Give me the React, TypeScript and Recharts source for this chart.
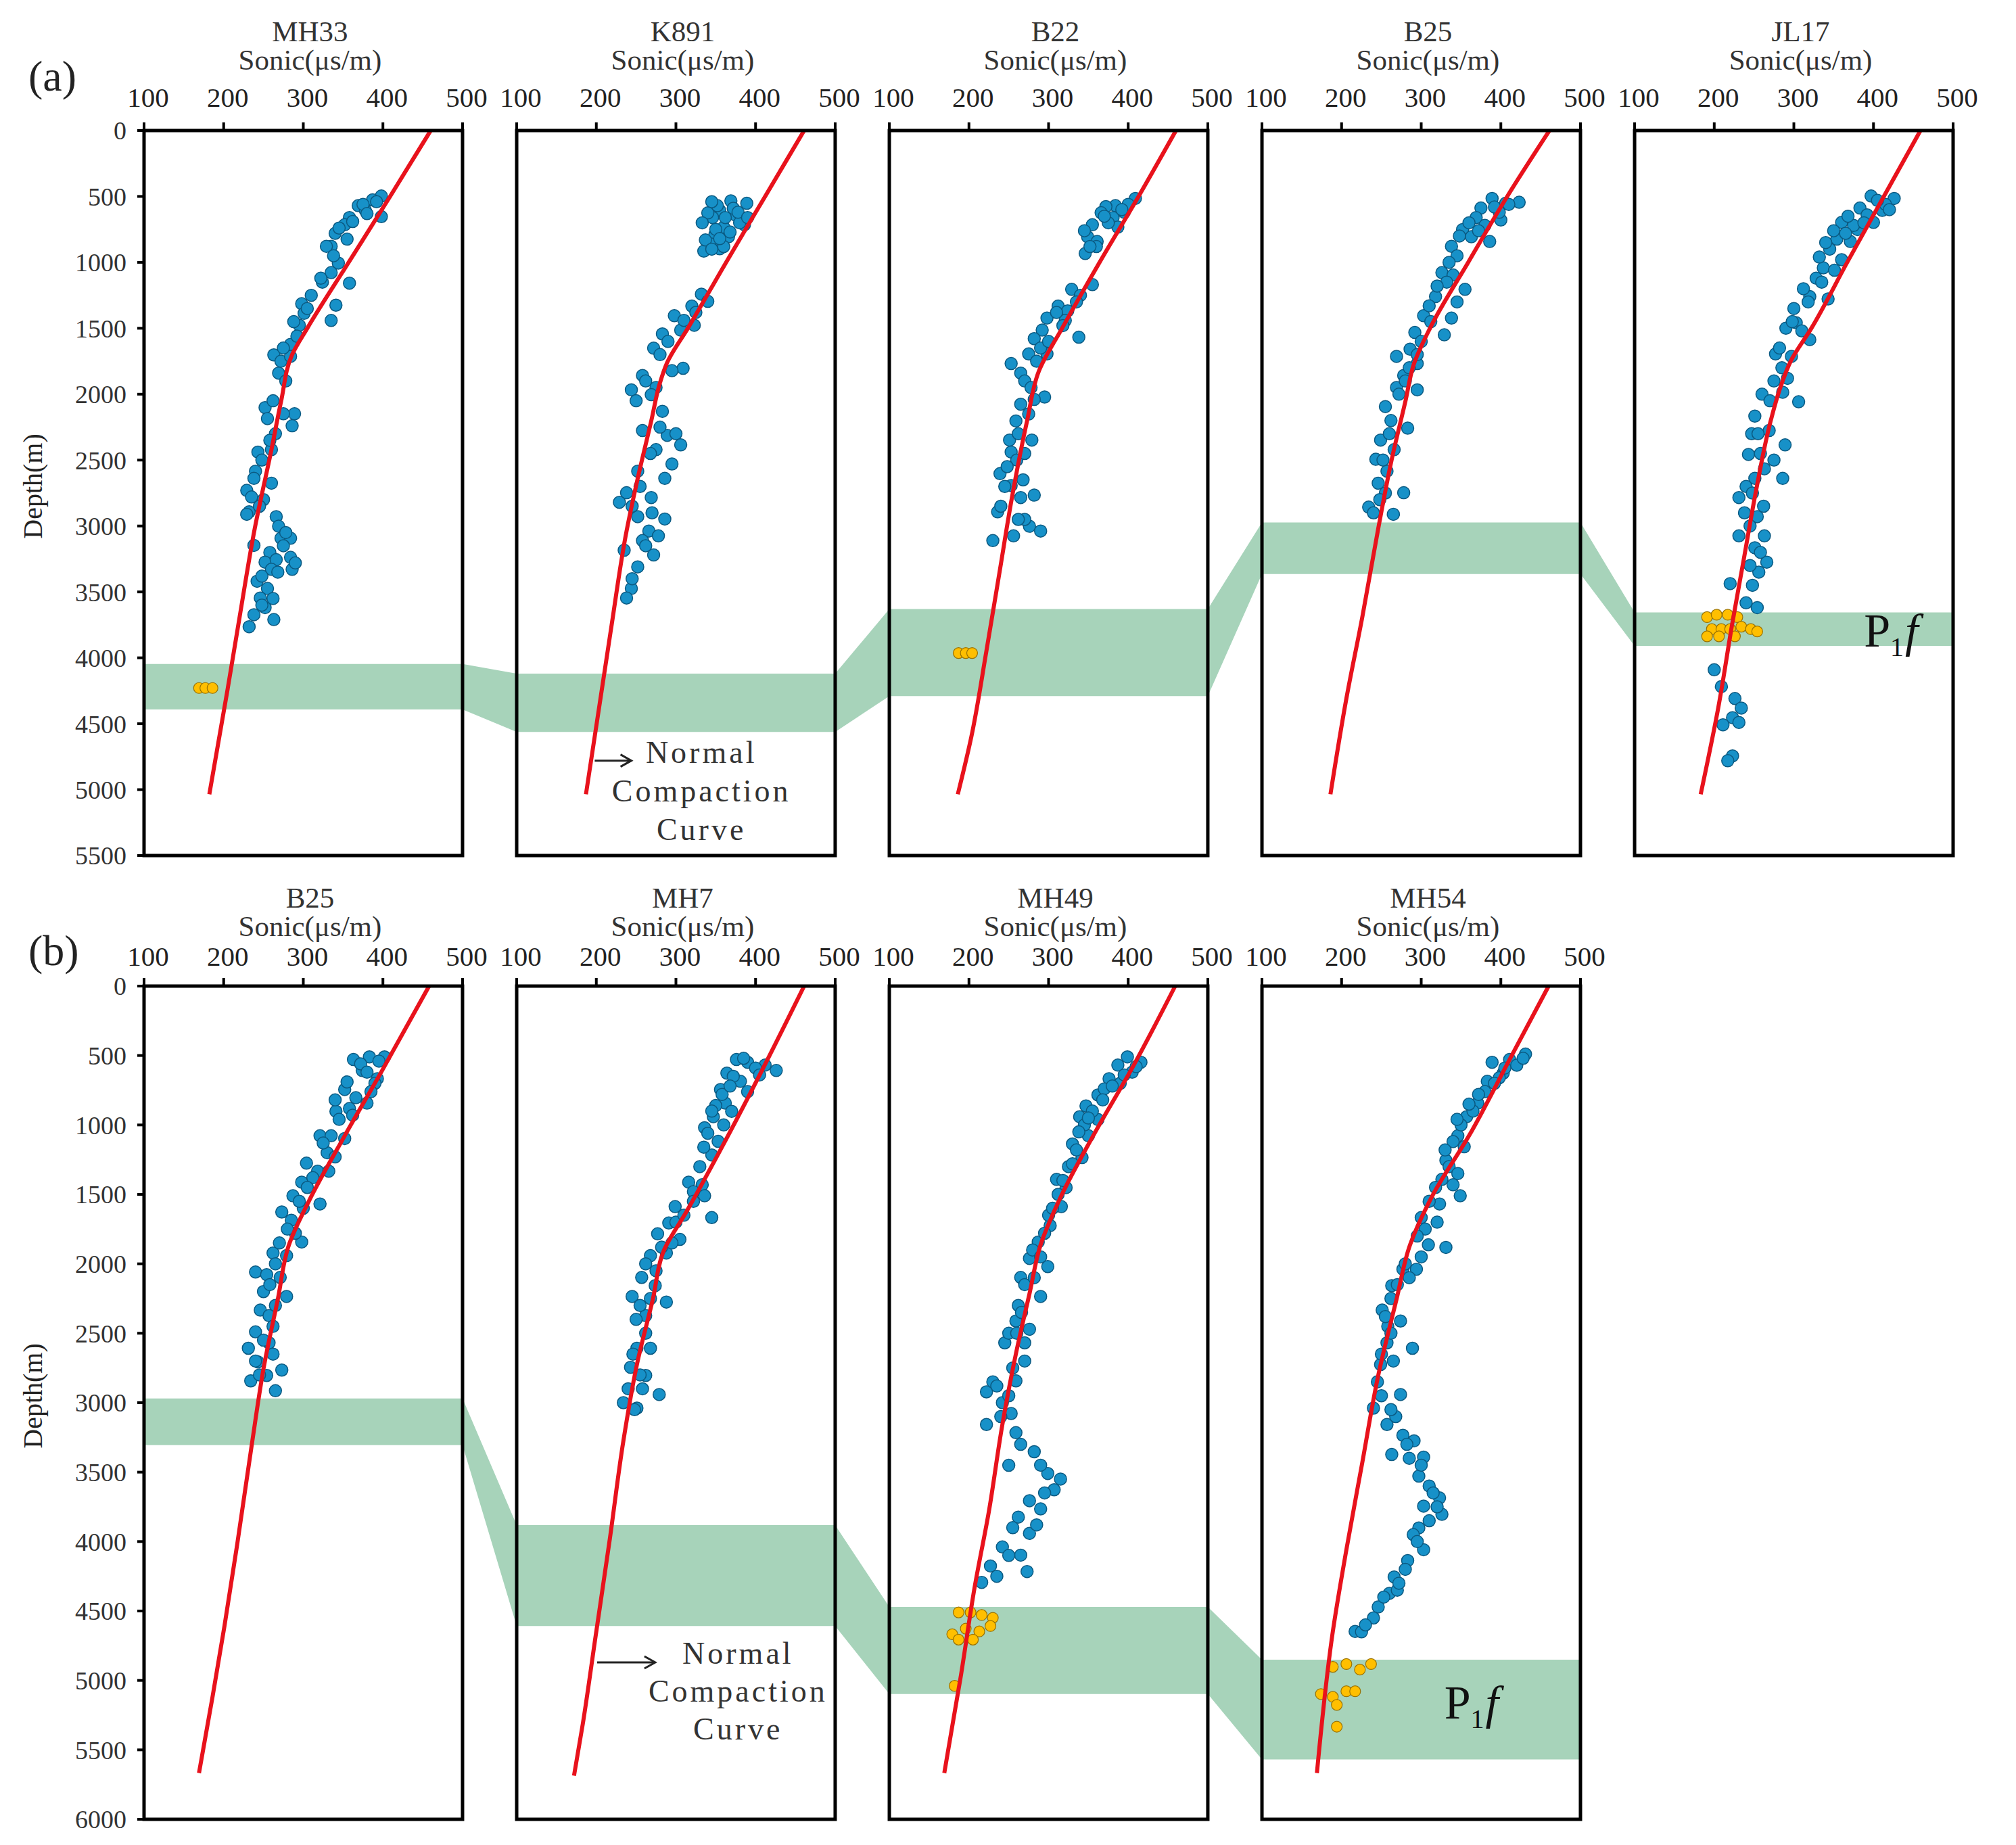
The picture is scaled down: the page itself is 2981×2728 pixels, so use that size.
import React from "react";
import {
  ComposedChart,
  XAxis,
  YAxis,
  Scatter,
  Line,
  Area,
  ReferenceArea,
  ReferenceLine,
  ReferenceDot,
} from "recharts";

type Pt = [number, number]; // [sonic µs/m, depth m]

const FONT = "'Liberation Serif', 'Times New Roman', serif";
const P = 468; // pitch between panels, in sonic units (400 wide + gap)
const X_MAX = 4 * P + 400;

const SONIC_TICKS = [100, 200, 300, 400, 500];
const DEPTH_TICKS_A = [0, 500, 1000, 1500, 2000, 2500, 3000, 3500, 4000, 4500, 5000, 5500];
const DEPTH_TICKS_B = [0, 500, 1000, 1500, 2000, 2500, 3000, 3500, 4000, 4500, 5000, 5500, 6000];

const WELLS_A = ["MH33", "K891", "B22", "B25", "JL17"];
const WELLS_B = ["B25", "MH7", "MH49", "MH54"];

// ---- row (a) ----
const mh33Blue: Pt[] = [
  [398, 497], [387, 526], [369, 570], [378, 606], [398, 653], [358, 660], [352, 715], [355, 824],
  [335, 878], [329, 878], [344, 1005], [335, 1078], [358, 1158], [324, 1150], [298, 1314], [301, 1387],
  [341, 1325], [335, 1441], [295, 1477], [284, 1622], [263, 1702], [272, 1750], [269, 1840], [284, 1713],
  [252, 2102], [255, 2185], [289, 2149], [286, 2240], [275, 2149], [243, 2439], [260, 2421], [240, 2584],
  [229, 2730], [238, 2639], [260, 2675], [232, 2893], [229, 2911], [266, 2929], [269, 3002], [272, 3093],
  [284, 3093], [238, 3147], [258, 3201], [252, 3274], [266, 3256], [284, 3238], [286, 3329], [260, 3329],
  [242, 3419], [255, 3474], [246, 3546], [252, 3619], [238, 3673], [263, 3710], [232, 3764],
  [375, 560], [340, 780], [310, 1250], [292, 1560], [278, 1900], [265, 2300], [250, 2800], [275, 3150],
  [248, 3380], [262, 3550], [392, 540], [380, 630], [362, 690], [345, 740], [338, 950], [322, 1120],
  [305, 1350], [288, 1450], [275, 1650], [262, 2050], [258, 2350], [248, 2500], [235, 2780], [245, 2850],
  [278, 3050], [268, 3350], [290, 3280], [248, 3600],
];
const k891Blue: Pt[] = [
  [369, 534], [389, 552], [355, 606], [375, 642], [346, 660], [386, 715], [360, 733], [349, 788],
  [366, 806], [343, 860], [335, 915], [355, 897], [352, 570], [372, 590], [340, 625], [362, 660],
  [380, 700], [350, 750], [368, 770], [337, 830], [360, 880],
  [332, 1241], [340, 1296], [320, 1332], [298, 1405], [323, 1477], [306, 1514], [283, 1543], [272, 1651],
  [309, 1804], [295, 1822], [258, 1858], [244, 1967], [275, 1949], [269, 2004], [283, 2130], [258, 2276],
  [289, 2312], [306, 2385], [275, 2421], [295, 2530], [252, 2584], [286, 2639], [238, 2748], [229, 2820],
  [269, 2784], [252, 2929], [286, 2947], [266, 3038], [278, 3075], [258, 3111], [235, 3184], [272, 3220],
  [252, 3310], [244, 3474], [238, 3546],
  [345, 540], [378, 620], [333, 700], [390, 660], [355, 820], [345, 900], [325, 1380], [310, 1440],
  [290, 1600], [280, 1700], [262, 1900], [250, 2050], [280, 2250], [300, 2300], [268, 2450], [255, 2700],
  [245, 2850], [270, 2900], [262, 3150], [245, 3400],
];
const b22Blue: Pt[] = [
  [409, 515], [384, 570], [372, 577], [366, 624], [381, 660], [355, 715], [387, 733], [349, 806],
  [361, 842], [346, 933], [355, 1169], [329, 1205], [312, 1332], [324, 1368], [298, 1423], [321, 1441],
  [338, 1568], [292, 1514], [282, 1579], [275, 1695], [253, 1768], [265, 1840], [298, 1695], [295, 2022],
  [282, 2040], [265, 2076], [259, 2203], [251, 2348], [279, 2348], [253, 2439], [239, 2603], [253, 2693],
  [282, 2766], [265, 2784], [236, 2893], [256, 3075], [276, 3002], [290, 3038], [230, 3111],
  [395, 620], [375, 700], [360, 880], [340, 1250], [310, 1380], [290, 1650], [270, 1900], [275, 2150],
  [260, 2500], [245, 2700], [270, 2950], [400, 560], [392, 600], [370, 650], [345, 760], [352, 880],
  [335, 1300], [318, 1480], [300, 1600], [285, 1750], [278, 1950], [262, 2300], [270, 2450], [248, 2550],
  [268, 2650], [240, 2850], [262, 2950],
];
const b25aBlue: Pt[] = [
  [389, 515], [423, 544], [406, 552], [375, 588], [369, 660], [400, 679], [352, 751], [338, 878],
  [363, 806], [386, 842], [326, 1078], [340, 1096], [355, 1205], [318, 1260], [338, 1423], [303, 1405],
  [329, 1550], [292, 1532], [286, 1659], [269, 1713], [295, 1768], [278, 1858], [269, 1949], [295, 1967],
  [255, 2094], [283, 2258], [249, 2348], [266, 2421], [243, 2494], [257, 2584], [246, 2675], [278, 2748],
  [234, 2857], [265, 2911],
  [398, 620], [380, 720], [345, 950], [332, 1150], [310, 1330], [300, 1600], [280, 1900], [262, 2200],
  [255, 2750], [240, 2900], [410, 560], [392, 580], [360, 700], [348, 800], [372, 760], [335, 1000],
  [320, 1180], [345, 1300], [312, 1450], [295, 1700], [285, 1800], [272, 2000], [260, 2300], [252, 2500],
  [248, 2800],
];
const jl17Blue: Pt[] = [
  [426, 515], [397, 497], [411, 606], [383, 588], [400, 697], [360, 697], [354, 824], [371, 842],
  [380, 751], [337, 1042], [351, 1060], [320, 1260], [343, 1278], [303, 1459], [320, 1586], [277, 1695],
  [297, 1713], [306, 2058], [286, 1985], [251, 2167], [269, 2276], [289, 2385], [243, 2457], [263, 2566],
  [251, 2639], [286, 2639], [231, 2784], [254, 2929], [231, 3075], [263, 3075], [251, 3165], [266, 3274],
  [220, 3437], [240, 3583], [254, 3619],
  [415, 560], [392, 640], [375, 720], [365, 780], [345, 900], [332, 960], [328, 1120], [312, 1200],
  [300, 1350], [290, 1500], [285, 1800], [275, 1900], [260, 2000], [247, 2300], [258, 2450], [240, 2700],
  [262, 2850], [245, 3000], [256, 3350], [248, 3450],
  [405, 530], [420, 600], [388, 700], [368, 650], [350, 760], [340, 850], [360, 980], [335, 1150],
  [318, 1300], [298, 1450], [310, 1520], [282, 1650], [292, 1880], [270, 2050], [255, 2300], [275, 2500],
  [248, 2750], [238, 2900], [258, 3200], [245, 3300],
  [200, 4091], [209, 4218], [226, 4309], [234, 4381], [223, 4454], [211, 4508], [231, 4490], [223, 4744],
  [217, 4781],
];

const mh33Orange: Pt[] = [[169, 4229], [177, 4229], [186, 4229]];
const b22Orange: Pt[] = [[187, 3964], [196, 3964], [204, 3964]];
const jl17Orange: Pt[] = [
  [191, 3691], [203, 3673], [217, 3673], [229, 3691], [197, 3782], [209, 3782], [220, 3782],
  [234, 3764], [246, 3782], [254, 3800], [191, 3837], [206, 3837], [226, 3837],
];

// normal compaction curves
const mh33Ncc: Pt[] = [
  [460, 0], [409, 500], [357, 1000], [305, 1500], [286, 1700], [272, 2058], [260, 2421], [239, 3020],
  [220, 3691], [205, 4236], [182, 5035],
];
const k891Ncc: Pt[] = [
  [461, 0], [412, 500], [363, 1000], [315, 1500], [289, 1760], [280, 1913], [269, 2203], [252, 2639],
  [238, 3038], [218, 3800], [187, 5035],
];
const b22Ncc: Pt[] = [
  [460, 0], [413, 500], [364, 1000], [317, 1500], [288, 1822], [273, 2203], [254, 2784], [239, 3329],
  [222, 3946], [203, 4599], [186, 5035],
];
const b25aNcc: Pt[] = [
  [461, 0], [408, 500], [359, 1000], [311, 1500], [291, 1768], [280, 2058], [263, 2494], [246, 3020],
  [226, 3691], [206, 4309], [186, 5035],
];
const jl17Ncc: Pt[] = [
  [459, 0], [413, 500], [367, 1000], [322, 1500], [296, 1750], [283, 1950], [271, 2200], [252, 2748],
  [237, 3256], [223, 3728], [205, 4381], [183, 5035],
];

// P1f interval [top, bottom] for each well
const BANDS_A: Pt[] = [[4047, 4392], [4120, 4563], [3630, 4290], [2973, 3365], [3655, 3909]];

// ---- row (b) ----
const b25bBlue: Pt[] = [
  [363, 529], [383, 510], [402, 510], [374, 608], [393, 667], [352, 745], [366, 804], [380, 843],
  [341, 902], [358, 882], [321, 1078], [335, 1078], [352, 1098], [304, 1275], [318, 1333], [332, 1333],
  [298, 1412], [287, 1510], [321, 1569], [273, 1627], [285, 1686], [298, 1843], [262, 1922], [279, 1941],
  [240, 2059], [254, 2078], [271, 2098], [279, 2235], [246, 2333], [257, 2373], [240, 2490], [257, 2569],
  [231, 2608], [243, 2706], [273, 2765], [234, 2843], [254, 2804], [265, 2914],
  [372, 560], [390, 700], [345, 960], [330, 1200], [312, 1380], [300, 1600], [290, 1780], [265, 2000],
  [250, 2200], [262, 2450], [245, 2800], [395, 540], [380, 620], [355, 690], [385, 760], [340, 820],
  [362, 930], [325, 1130], [340, 1230], [305, 1450], [295, 1550], [280, 1750], [270, 1850], [258, 2150],
  [265, 2300], [250, 2550], [240, 2700], [262, 2650],
];
const mh7Blue: Pt[] = [
  [376, 529], [390, 549], [412, 569], [426, 608], [364, 627], [381, 686], [356, 745], [362, 843],
  [347, 941], [370, 902], [336, 1020], [353, 1118], [345, 1216], [316, 1412], [333, 1431], [336, 1510],
  [345, 1667], [299, 1588], [291, 1706], [277, 1784], [305, 1824], [268, 1941], [288, 1922], [257, 2098],
  [274, 2157], [245, 2235], [288, 2275], [262, 2373], [251, 2608], [268, 2608], [243, 2745], [262, 2804],
  [234, 3000], [279, 2941], [251, 3039],
  [400, 590], [372, 650], [358, 780], [350, 860], [340, 1060], [330, 1300], [322, 1480], [300, 1700],
  [282, 1880], [262, 2000], [268, 2250], [250, 2400], [255, 2800], [240, 2900], [385, 520], [405, 640],
  [368, 720], [390, 760], [345, 900], [360, 1000], [335, 1160], [322, 1550], [310, 1650], [295, 1850],
  [275, 2050], [255, 2300], [262, 2500], [246, 2650], [258, 2900], [248, 3050],
];
const mh49Blue: Pt[] = [
  [399, 510], [416, 549], [387, 569], [376, 667], [362, 784], [347, 863], [339, 941], [362, 961],
  [350, 1078], [330, 1137], [342, 1235], [310, 1392], [322, 1451], [316, 1588], [302, 1725], [287, 1843],
  [276, 1961], [299, 2020], [265, 2098], [290, 2235], [259, 2412], [276, 2471], [245, 2569], [270, 2569],
  [259, 2843], [222, 2922], [242, 3000], [222, 3157], [253, 3078], [259, 3216], [282, 3353], [250, 3451],
  [299, 3510], [307, 3627], [276, 3706], [290, 3765], [262, 3824], [276, 3941], [242, 4039], [265, 4098],
  [227, 4176], [273, 4216], [216, 4294],
  [405, 620], [390, 700], [370, 740], [355, 900], [345, 1000], [335, 1180], [325, 1300], [318, 1400],
  [300, 1650], [295, 1780], [280, 1900], [270, 2150], [262, 2300], [250, 2500], [255, 2750], [230, 2850],
  [250, 2950], [410, 580], [395, 640], [380, 720], [368, 820], [350, 950], [338, 1050], [330, 1280],
  [312, 1500], [305, 1600], [290, 1950], [282, 2100], [266, 2350], [260, 2500], [270, 2700], [235, 2880],
  [240, 3100], [265, 3300], [290, 3450], [315, 3550], [295, 3650], [285, 3880], [255, 3900], [250, 4100],
  [235, 4250],
];
const mh54Blue: Pt[] = [
  [431, 490], [411, 529], [389, 549], [403, 627], [383, 686], [371, 843], [357, 941], [346, 1078],
  [354, 1157], [331, 1255], [326, 1392], [340, 1431], [349, 1510], [323, 1569], [300, 1667], [331, 1882],
  [309, 1863], [277, 2039], [294, 2039], [263, 2157], [251, 2333], [274, 2412], [257, 2569], [289, 2608],
  [249, 2725], [274, 2941], [240, 3039], [257, 3157], [277, 3235], [291, 3275], [303, 3392], [263, 3373],
  [297, 3529], [323, 3686], [303, 3745], [326, 3804], [297, 3902], [303, 4059], [283, 4137], [266, 4255],
  [260, 4373], [246, 4471], [217, 4647],
  [420, 570], [398, 660], [380, 760], [365, 900], [350, 1000], [340, 1120], [335, 1300], [318, 1450],
  [305, 1750], [300, 1950], [285, 2100], [262, 2250], [258, 2450], [250, 2650], [245, 2850], [268, 3100],
  [285, 3400], [310, 3600], [290, 3950], [270, 4350], [253, 4400], [225, 4650],
  [428, 520], [405, 590], [392, 700], [372, 780], [360, 850], [345, 960], [330, 1180], [346, 1350],
  [310, 1550], [320, 1700], [295, 1800], [280, 2000], [270, 2150], [255, 2380], [262, 2500], [265, 2700],
  [250, 2950], [262, 3050], [282, 3300], [300, 3450], [315, 3650], [320, 3750], [310, 3850], [295, 4000],
  [280, 4200], [272, 4300], [240, 4550], [230, 4600],
];

const mh49Orange: Pt[] = [
  [187, 4510], [202, 4510], [216, 4529], [230, 4549], [179, 4667], [196, 4627], [213, 4647],
  [227, 4608], [187, 4706], [205, 4706], [182, 5039],
];
const mh54Orange: Pt[] = [
  [189, 4902], [206, 4882], [223, 4922], [237, 4882], [174, 5098], [189, 5118], [206, 5078],
  [217, 5078], [194, 5176], [194, 5333],
];

const b25bNcc: Pt[] = [
  [458, 0], [399, 608], [352, 1078], [307, 1549], [282, 1863], [268, 2255], [251, 2725], [235, 3314],
  [217, 4020], [201, 4608], [186, 5118], [169, 5667],
];
const mh7Ncc: Pt[] = [
  [461, 0], [408, 608], [358, 1157], [313, 1627], [285, 1902], [271, 2255], [251, 2725], [234, 3275],
  [217, 3980], [199, 4686], [183, 5314], [172, 5686],
];
const mh49Ncc: Pt[] = [
  [459, 0], [407, 569], [356, 1078], [316, 1510], [290, 1863], [276, 2216], [259, 2647], [242, 3157],
  [225, 3784], [207, 4333], [190, 4961], [169, 5667],
];
const mh54Ncc: Pt[] = [
  [460, 0], [411, 529], [360, 1078], [314, 1510], [286, 1863], [269, 2255], [246, 2804], [226, 3431],
  [206, 4059], [189, 4647], [169, 5667],
];

const BANDS_B: Pt[] = [[2969, 3306], [3882, 4608], [4471, 5098], [4851, 5569]];

const BLUE = "#1791c8";
const BLUE_EDGE = "#0b5a82";
const ORANGE = "#ffbf00";
const ORANGE_EDGE = "#9a7200";
const GREEN = "#a7d3ba";
const RED = "#e8121c";

// sonic value of panel k -> shared x coordinate
const sx = (k: number, s: number) => k * P + s - 100;

interface NoteSpec {
  panel: number;
  sonic: number;
  depth: number;
}

interface RowProps {
  names: string[];
  blue: Pt[][];
  orange: Pt[][];
  curves: Pt[][];
  bands: Pt[];
  depthTicks: number[];
  height: number;
  marginTop: number;
  marginBottom: number;
  titleDy: [number, number, number];
  lineGap: number;
  ncc: NoteSpec & { arrow: [number, number, number] };
  pf: NoteSpec;
}

const blueDot = (p: any) => (
  <circle cx={p.cx} cy={p.cy} r={9} fill={BLUE} stroke={BLUE_EDGE} strokeWidth={1.5} />
);
const orangeDot = (p: any) => (
  <circle cx={p.cx} cy={p.cy} r={8} fill={ORANGE} stroke={ORANGE_EDGE} strokeWidth={1.2} />
);

const DepthLabel = (p: any) => {
  const vb = p.viewBox || { y: 0, height: 0 };
  const cy = vb.y + vb.height / 2 - 10;
  return (
    <text
      x={48}
      y={cy}
      transform={`rotate(-90 48 ${cy})`}
      textAnchor="middle"
      dominantBaseline="central"
      fontSize={40}
      fontFamily={FONT}
      fill="#222"
    >
      Depth(m)
    </text>
  );
};

const arrowShape = (p: any) => {
  const { x1, y1, x2, y2 } = p;
  return (
    <g>
      <line x1={x1} y1={y1} x2={x2} y2={y2} stroke="#222" strokeWidth={3} />
      <path
        d={`M${x2 - 16},${y2 - 9} L${x2},${y2} L${x2 - 16},${y2 + 9}`}
        fill="none"
        stroke="#222"
        strokeWidth={3}
      />
    </g>
  );
};

const pfShape = (p: any) => (
  <text x={p.cx} y={p.cy} fontSize={70} fontFamily={FONT} fill="#111">
    P
    <tspan fontSize={40} dy={14}>
      1
    </tspan>
    <tspan fontStyle="italic" dy={-14} dx={2}>
      f
    </tspan>
  </text>
);

function Row(props: RowProps) {
  const { names, blue, orange, curves, bands, depthTicks, titleDy, lineGap, ncc, pf } = props;
  const depthMax = depthTicks[depthTicks.length - 1];

  const xTicks = names.flatMap((_, k) => SONIC_TICKS.map((v) => sx(k, v)));
  const blueData = blue.flatMap((pts, k) => pts.map(([s, d]) => ({ x: sx(k, s), y: d })));
  const orangeData = orange.flatMap((pts, k) => pts.map(([s, d]) => ({ x: sx(k, s), y: d })));
  const bandData = bands.flatMap(([t, b], k) => [
    { x: sx(k, 100), r: [t, b] },
    { x: sx(k, 500), r: [t, b] },
  ]);

  const renderTick = (p: any) => {
    const k = Math.floor(p.payload.value / P + 1e-6);
    const v = Math.round(p.payload.value - k * P + 100);
    return (
      <g>
        <text x={p.x + 6} y={p.y + titleDy[0]} textAnchor="middle" fontSize={41} fontFamily={FONT} fill="#222">
          {v}
        </text>
        {v === 300 && (
          <>
            <text x={p.x + 10} y={p.y + titleDy[1]} textAnchor="middle" fontSize={43} fontFamily={FONT} fill="#333">
              Sonic(μs/m)
            </text>
            <text x={p.x + 10} y={p.y + titleDy[2]} textAnchor="middle" fontSize={43} fontFamily={FONT} fill="#333">
              {names[k]}
            </text>
          </>
        )}
      </g>
    );
  };

  const nccShape = (p: any) => (
    <text x={p.cx} y={p.cy} textAnchor="middle" fontSize={46} letterSpacing={4} fontFamily={FONT} fill="#333">
      <tspan x={p.cx} dy={0}>Normal</tspan>
      <tspan x={p.cx} dy={lineGap}>Compaction</tspan>
      <tspan x={p.cx} dy={lineGap}>Curve</tspan>
    </text>
  );

  return (
    <ComposedChart
      width={2981}
      height={props.height}
      margin={{ top: props.marginTop, right: 93, bottom: props.marginBottom, left: 0 }}
    >
      <XAxis
        type="number"
        dataKey="x"
        domain={[0, X_MAX]}
        ticks={xTicks}
        interval={0}
        orientation="top"
        axisLine={false}
        tickLine={{ stroke: "#000", strokeWidth: 4 }}
        tickSize={12}
        tickMargin={2}
        height={150}
        tick={renderTick}
      />
      <YAxis
        type="number"
        dataKey="y"
        domain={[0, depthMax]}
        reversed
        ticks={depthTicks}
        interval={0}
        width={213}
        axisLine={false}
        tickLine={{ stroke: "#000", strokeWidth: 4 }}
        tickSize={10}
        tickMargin={16}
        tick={{ fill: "#333", fontSize: 38, fontFamily: FONT }}
        label={{ content: DepthLabel }}
      />
      <Area
        data={bandData}
        dataKey="r"
        type="linear"
        stroke="none"
        fill={GREEN}
        fillOpacity={1}
        dot={false}
        activeDot={false}
        isAnimationActive={false}
      />
      <Scatter data={blueData} shape={blueDot} isAnimationActive={false} />
      <Scatter data={orangeData} shape={orangeDot} isAnimationActive={false} />
      {curves.map((c, k) => (
        <Line
          key={`ncc-${k}`}
          data={c.map(([s, d]) => ({ x: sx(k, s), y: d }))}
          dataKey="y"
          type="monotoneY"
          stroke={RED}
          strokeWidth={6}
          dot={false}
          activeDot={false}
          isAnimationActive={false}
          zIndex={700}
        />
      ))}
      {names.map((n, k) => (
        <ReferenceArea
          key={`frame-${n}-${k}`}
          x1={sx(k, 100)}
          x2={sx(k, 500)}
          y1={0}
          y2={depthMax}
          fill="none"
          stroke="#000"
          strokeWidth={5}
          zIndex={1500}
        />
      ))}
      <ReferenceLine
        segment={[
          { x: sx(ncc.panel, ncc.arrow[0]), y: ncc.arrow[2] },
          { x: sx(ncc.panel, ncc.arrow[1]), y: ncc.arrow[2] },
        ]}
        shape={arrowShape}
      />
      <ReferenceDot x={sx(ncc.panel, ncc.sonic)} y={ncc.depth} r={0} shape={nccShape} />
      <ReferenceDot x={sx(pf.panel, pf.sonic)} y={pf.depth} r={0} shape={pfShape} />
    </ComposedChart>
  );
}

export default function App() {
  return (
    <div
      style={{
        position: "absolute",
        left: 0,
        top: 0,
        width: 2981,
        height: 2728,
        background: "#fff",
        fontFamily: FONT,
        overflow: "hidden",
      }}
    >
      <div style={{ position: "absolute", left: 0, top: 0 }}>
        <Row
          names={WELLS_A}
          blue={[mh33Blue, k891Blue, b22Blue, b25aBlue, jl17Blue]}
          orange={[mh33Orange, [], b22Orange, [], jl17Orange]}
          curves={[mh33Ncc, k891Ncc, b22Ncc, b25aNcc, jl17Ncc]}
          bands={BANDS_A}
          depthTicks={DEPTH_TICKS_A}
          height={1285}
          marginTop={43}
          marginBottom={20}
          titleDy={[-21, -76, -118]}
          lineGap={57}
          ncc={{ panel: 1, sonic: 332, depth: 4798, arrow: [198, 244, 4780] }}
          pf={{ panel: 4, sonic: 388, depth: 3915 }}
        />
      </div>
      <div style={{ position: "absolute", left: 0, top: 1285 }}>
        <Row
          names={WELLS_B}
          blue={[b25bBlue, mh7Blue, mh49Blue, mh54Blue]}
          orange={[[], [], mh49Orange, mh54Orange]}
          curves={[b25bNcc, mh7Ncc, mh49Ncc, mh54Ncc]}
          bands={BANDS_B}
          depthTicks={DEPTH_TICKS_B}
          height={1443}
          marginTop={23}
          marginBottom={38}
          titleDy={[-16, -60, -102]}
          lineGap={56}
          ncc={{ panel: 1, sonic: 378, depth: 4882, arrow: [201, 274, 4870] }}
          pf={{ panel: 3, sonic: 329, depth: 5275 }}
        />
      </div>
      <div style={{ position: "absolute", left: 42, top: 81, fontSize: 64, lineHeight: 1, color: "#222" }}>(a)</div>
      <div style={{ position: "absolute", left: 42, top: 1374, fontSize: 64, lineHeight: 1, color: "#222" }}>(b)</div>
    </div>
  );
}
